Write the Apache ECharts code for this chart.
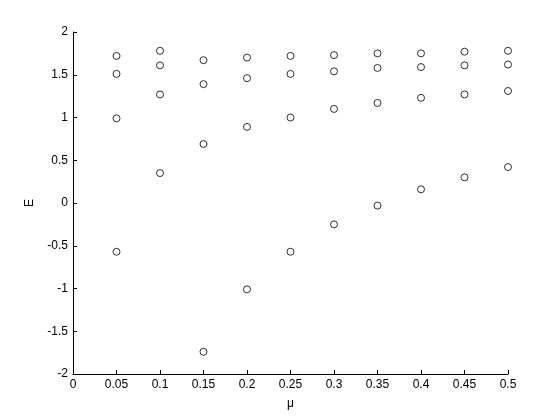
<!DOCTYPE html>
<html>
<head>
<meta charset="utf-8">
<script src="https://cdn.jsdelivr.net/npm/echarts@6/dist/echarts.min.js"></script>
<style>
html, body { margin: 0; padding: 0; background: #fff; }
#chart { width: 560px; height: 420px; }
</style>
</head>
<body>
<div id="chart"></div>
<script>
// mu values and the four energy branches
var mu = [0.05, 0.1, 0.15, 0.2, 0.25, 0.3, 0.35, 0.4, 0.45, 0.5];
var e1 = [1.72, 1.78, 1.67, 1.70, 1.72, 1.73, 1.75, 1.75, 1.77, 1.78];
var e2 = [1.51, 1.61, 1.39, 1.46, 1.51, 1.54, 1.58, 1.59, 1.61, 1.62];
var e3 = [0.99, 1.27, 0.69, 0.89, 1.00, 1.10, 1.17, 1.23, 1.27, 1.31];
var e4 = [-0.57, 0.35, -1.74, -1.01, -0.57, -0.25, -0.03, 0.16, 0.30, 0.42];
var xTicks = [0, 0.05, 0.1, 0.15, 0.2, 0.25, 0.3, 0.35, 0.4, 0.45, 0.5];
var yTicks = [-2, -1.5, -1, -0.5, 0, 0.5, 1, 1.5, 2];

var myChart = echarts.init(document.getElementById('chart'));

function pairs(ys) {
    var out = [];
    for (var i = 0; i < mu.length; i++) {
        out.push([mu[i], ys[i]]);
    }
    return out;
}

var textStyle = { color: '#000', fontFamily: 'Liberation Sans', fontSize: 12 };

var series = [e1, e2, e3, e4].map(function (ys) {
    return {
        type: 'scatter',
        data: pairs(ys),
        symbol: 'circle',
        symbolSize: 7,
        itemStyle: { color: '#fff', borderColor: '#000', borderWidth: 1 },
        emphasis: { disabled: true }
    };
});

var option = {
    animation: false,
    backgroundColor: '#fff',
    grid: { left: 73, right: 52, top: 32, bottom: 46 },
    xAxis: {
        type: 'value',
        min: 0, max: 0.5, interval: 0.05,
        name: 'μ',
        nameLocation: 'middle',
        nameGap: 24,
        nameTextStyle: textStyle,
        axisLine: { onZero: false, lineStyle: { color: '#000', width: 1 } },
        axisTick: { inside: true, length: 4, lineStyle: { color: '#000' } },
        axisLabel: {
            color: '#000', fontFamily: 'Liberation Sans', fontSize: 12, margin: 5,
            formatter: function (v) { return String(xTicks[Math.round(v / 0.05)]); }
        },
        splitLine: { show: false }
    },
    yAxis: {
        type: 'value',
        min: -2, max: 2, interval: 0.5,
        name: 'E',
        nameLocation: 'middle',
        nameGap: 37,
        nameTextStyle: textStyle,
        axisLine: { show: true, onZero: false, lineStyle: { color: '#000', width: 1 } },
        axisTick: { show: true, inside: true, length: 4, lineStyle: { color: '#000' } },
        axisLabel: {
            color: '#000', fontFamily: 'Liberation Sans', fontSize: 12, margin: 5,
            formatter: function (v) { return String(yTicks[Math.round((v + 2) / 0.5)]); }
        },
        splitLine: { show: false }
    },
    series: series
};
myChart.setOption(option);
</script>
</body>
</html>
